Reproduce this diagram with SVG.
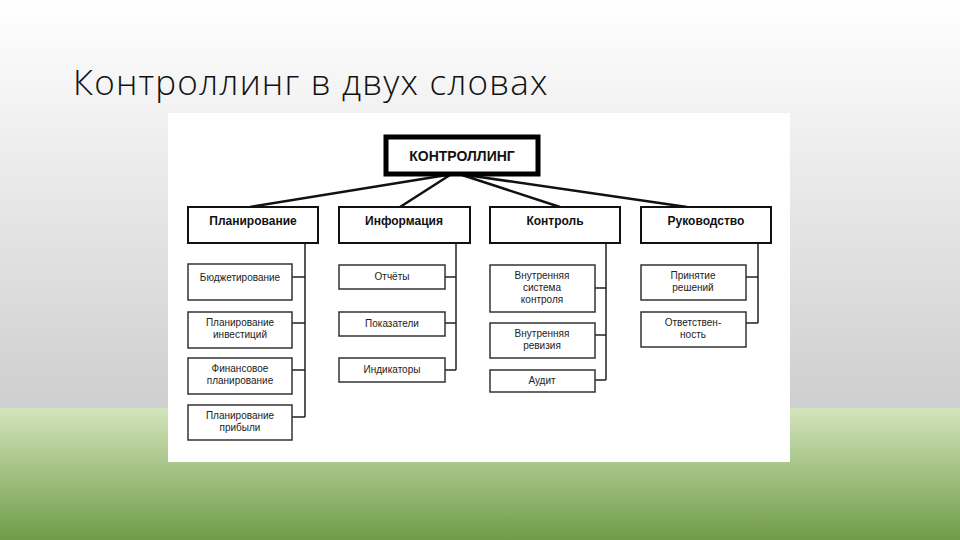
<svg xmlns="http://www.w3.org/2000/svg" width="960" height="540" viewBox="0 0 960 540">
<defs>
<linearGradient id="bg" x1="0" y1="0" x2="0" y2="1">
<stop offset="0" stop-color="#ffffff"/><stop offset="0.74" stop-color="#cfcfcf"/>
</linearGradient>
<linearGradient id="gr" x1="0" y1="0" x2="0" y2="1">
<stop offset="0" stop-color="#d4e4bc"/><stop offset="1" stop-color="#6f9c47"/>
</linearGradient>
<style>
.b{fill:#fff;stroke:#111;stroke-width:2}
.c{fill:#fff;stroke:#333;stroke-width:1.5}
.t{font-family:"Liberation Sans",Arial,sans-serif;fill:#111;text-anchor:middle}
.h{font-size:12px;font-weight:bold}
.s{font-size:10px;fill:#222}
.l{stroke:#222;stroke-width:1.5;fill:none}
.k{stroke:#111;stroke-width:2.5;fill:none}
</style>
</defs>
<rect width="960" height="540" fill="url(#bg)"/>
<rect y="408" width="960" height="132" fill="url(#gr)"/>
<text x="73" y="95" font-family="Open Sans, Liberation Sans, sans-serif" font-size="35" font-weight="300" letter-spacing="1.2" fill="#111">Контроллинг в двух словах</text>
<rect x="168" y="113" width="622" height="349" fill="#fff"/>
<g id="connectors">
<path class="k" d="M447 175 L250 207 M450 175 L400 207 M462 175 L560 207 M466 175 L687 207"/>
<path class="l" d="M305 243 V417 M292 277 H305 M292 323 H305 M292 370 H305 M292 417 H305"/>
<path class="l" d="M456 243 V370 M445 277 H456 M445 323 H456 M445 370 H456"/>
<path class="l" d="M606 243 V380 M595 288 H606 M595 335 H606 M595 380 H606"/>
<path class="l" d="M758 243 V323 M746 277 H758 M746 323 H758"/>
</g>
<g id="root"><rect x="386" y="137" width="152" height="37" fill="#fff" stroke="#000" stroke-width="5"/><text class="t" x="462" y="161" font-size="14" font-weight="bold">КОНТРОЛЛИНГ</text></g>
<g id="plan"><rect class="b" x="188" y="207" width="130" height="36"/><text class="t h" x="253" y="225">Планирование</text></g>
<g id="info"><rect class="b" x="339" y="207" width="131" height="36"/><text class="t h" x="404" y="225">Информация</text></g>
<g id="ctrl"><rect class="b" x="490" y="207" width="130" height="36"/><text class="t h" x="555" y="225">Контроль</text></g>
<g id="ruk"><rect class="b" x="641" y="207" width="130" height="36"/><text class="t h" x="706" y="225">Руководство</text></g>
<g id="p1"><rect class="c" x="188" y="264" width="104" height="36"/><text class="t s" x="240" y="281">Бюджетирование</text></g>
<g id="p2"><rect class="c" x="188" y="312" width="104" height="36"/><text class="t s" x="240" y="326">Планирование</text><text class="t s" x="240" y="338">инвестиций</text></g>
<g id="p3"><rect class="c" x="188" y="358" width="104" height="36"/><text class="t s" x="240" y="372">Финансовое</text><text class="t s" x="240" y="384">планирование</text></g>
<g id="p4"><rect class="c" x="188" y="405" width="104" height="35"/><text class="t s" x="240" y="419">Планирование</text><text class="t s" x="240" y="431">прибыли</text></g>
<g id="i1"><rect class="c" x="339" y="265" width="106" height="24"/><text class="t s" x="392" y="280">Отчёты</text></g>
<g id="i2"><rect class="c" x="339" y="312" width="106" height="24"/><text class="t s" x="392" y="327">Показатели</text></g>
<g id="i3"><rect class="c" x="339" y="358" width="106" height="24"/><text class="t s" x="392" y="373">Индикаторы</text></g>
<g id="c1"><rect class="c" x="490" y="265" width="105" height="47"/><text class="t s" x="542" y="279">Внутренняя</text><text class="t s" x="542" y="291">система</text><text class="t s" x="542" y="303">контроля</text></g>
<g id="c2"><rect class="c" x="490" y="323" width="105" height="35"/><text class="t s" x="542" y="337">Внутренняя</text><text class="t s" x="542" y="349">ревизия</text></g>
<g id="c3"><rect class="c" x="490" y="370" width="105" height="22"/><text class="t s" x="542" y="384">Аудит</text></g>
<g id="r1"><rect class="c" x="641" y="265" width="105" height="35"/><text class="t s" x="693" y="279">Принятие</text><text class="t s" x="693" y="291">решений</text></g>
<g id="r2"><rect class="c" x="641" y="312" width="105" height="35"/><text class="t s" x="693" y="326">Ответствен-</text><text class="t s" x="693" y="338">ность</text></g>
</svg>
